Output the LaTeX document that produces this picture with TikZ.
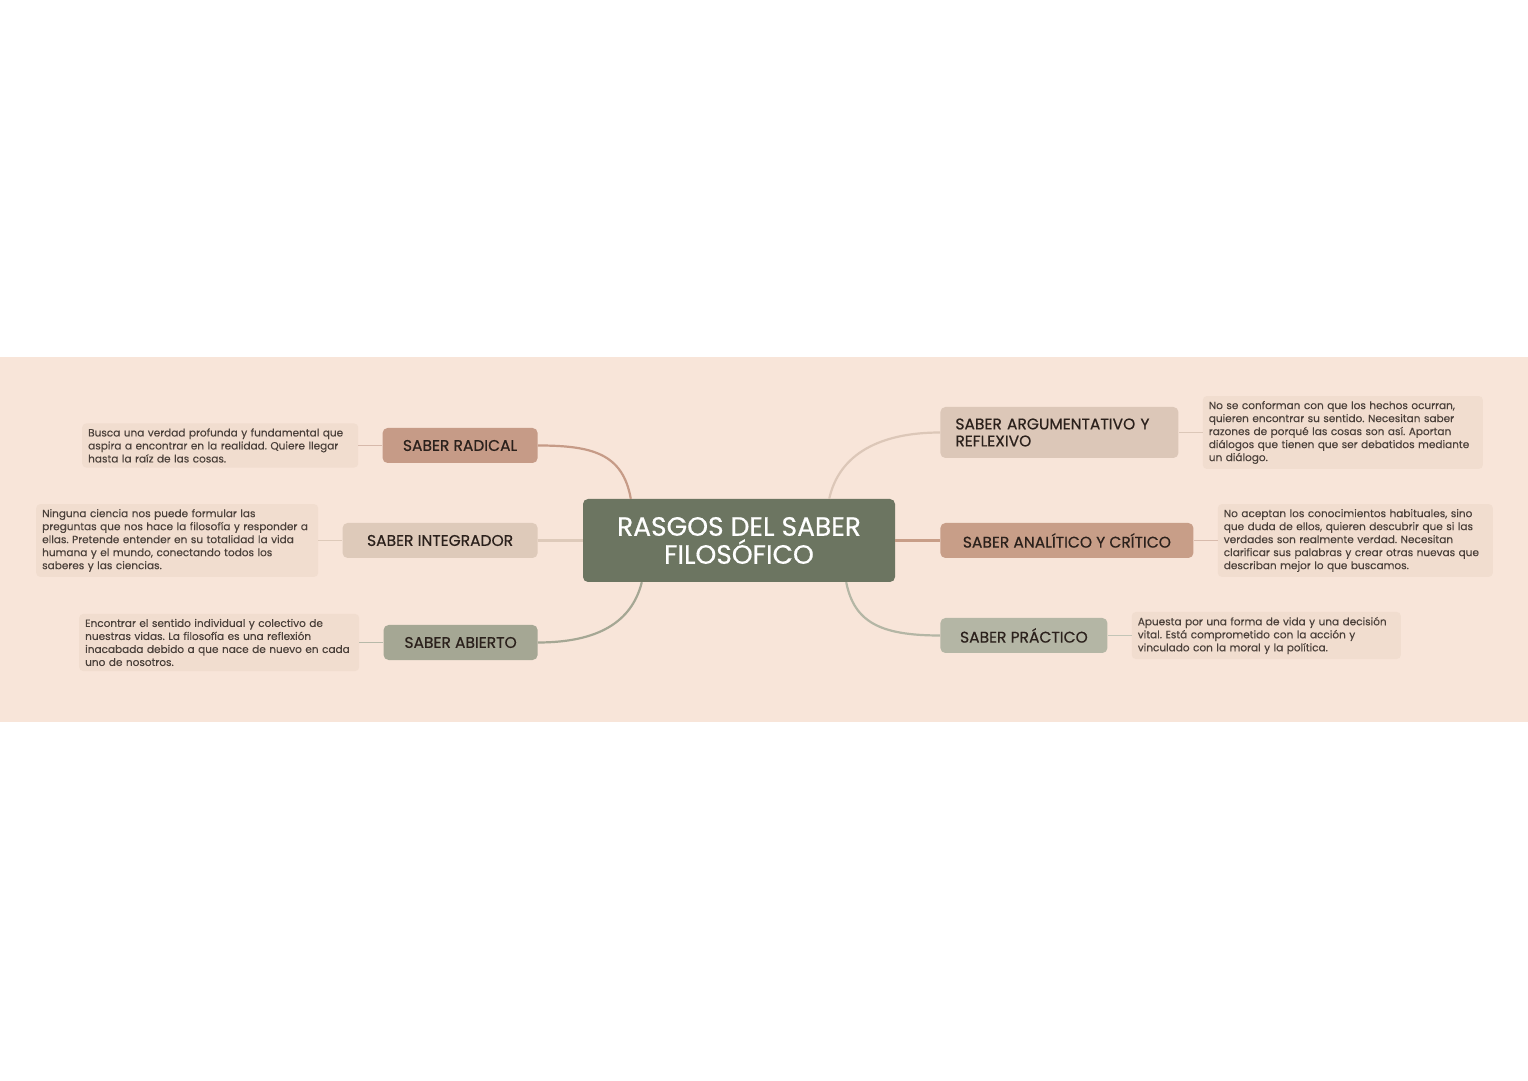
\documentclass[tikz,border=0pt]{standalone}
\usepackage{fontspec}
\setmainfont{Poppins}
\newfontfamily\rasgofont{Poppins}[FakeBold=0.5]
\newfontfamily\notafont{Poppins}[FakeBold=0.25]
\usetikzlibrary{positioning}

\definecolor{bandbg}{HTML}{F8E5D9}
\definecolor{notabg}{HTML}{F1DDCF}
\definecolor{notatext}{HTML}{4A403A}
\definecolor{rasgotext}{HTML}{2B211C}
\definecolor{centro}{HTML}{6C7561}
\definecolor{cradical}{HTML}{C69B87}
\definecolor{cintegrador}{HTML}{DECABA}
\definecolor{cabierto}{HTML}{A5A794}
\definecolor{cargumento}{HTML}{DCC7B8}
\definecolor{canalitico}{HTML}{C89E88}
\definecolor{cpractico}{HTML}{B4B6A5}

\tikzstyle{central} = [
    rectangle,
    rounded corners=5pt,
    minimum width=312pt,
    minimum height=83pt,
    text centered,
    align=center,
    fill=centro,
    text=white,
    font=\rasgofont\fontsize{26.5}{28}\selectfont,
]
\tikzstyle{rasgo} = [
    rectangle,
    rounded corners=5pt,
    minimum height=35pt,
    inner xsep=15pt,
    text=rasgotext,
    font=\rasgofont\fontsize{15.5}{17}\selectfont,
]
\tikzstyle{nota} = [
    rectangle,
    rounded corners=4pt,
    align=left,
    inner xsep=6pt,
    inner ysep=5pt,
    fill=notabg,
    text=notatext,
    font=\notafont\fontsize{10.5}{13}\selectfont,
]
\tikzstyle{rama} = [
    line width=2.2pt,
]
\tikzstyle{enlace} = [
    line width=1.2pt,
]

\begin{document}
\frenchspacing
\begin{tikzpicture}[x=1pt, y=1pt, node distance=24pt]
        \useasboundingbox (0,0) rectangle (1528,1080);
        \fill[white] (0,0) rectangle (1528,1080);
        \fill[bandbg] (0,358) rectangle (1528,723);
        %% centro
        \node (centro) [central] at (739,539.5) {RASGOS DEL SABER\\FILOS\'OFICO};
        %% rasgos de la izquierda
        \node (radical) [rasgo, fill=cradical, minimum width=155pt, left=45pt of centro, yshift=95pt] {SABER RADICAL};
        \node (integrador) [rasgo, fill=cintegrador, minimum width=195pt, left=45pt of centro] {SABER INTEGRADOR};
        \node (abierto) [rasgo, fill=cabierto, minimum width=154pt, left=45pt of centro, yshift=-102pt] {SABER ABIERTO};
        %% rasgos de la derecha
        \node (argumento) [rasgo, fill=cargumento, text width=208pt, align=left, minimum height=51pt, right=45pt of centro, yshift=108pt] {SABER ARGUMENTATIVO Y\\REFLEXIVO};
        \node (analitico) [rasgo, fill=canalitico, minimum width=253pt, right=45pt of centro] {SABER ANAL\'ITICO Y CR\'ITICO};
        \node (practico) [rasgo, fill=cpractico, minimum width=167pt, right=45pt of centro, yshift=-95pt] {SABER PR\'ACTICO};
        %% notas
        \node (nradical) [nota, text width=264pt, left=of radical] {Busca una verdad profunda y fundamental que\\aspira a encontrar en la realidad. Quiere llegar\\hasta la ra\'iz de las cosas.};
        \node (nintegrador) [nota, text width=270pt, left=of integrador] {Ninguna ciencia nos puede formular las\\preguntas que nos hace la filosof\'ia y responder a\\ellas. Pretende entender en su totalidad la vida\\humana y el mundo, conectando todos los\\saberes y las ciencias.};
        \node (nabierto) [nota, text width=268pt, left=of abierto] {Encontrar el sentido individual y colectivo de\\nuestras vidas. La filosof\'ia es una reflexi\'on\\inacabada debido a que nace de nuevo en cada\\uno de nosotros.};
        \node (nargumento) [nota, text width=268pt, right=of argumento] {No se conforman con que los hechos ocurran,\\quieren encontrar su sentido. Necesitan saber\\razones de porqu\'e las cosas son as\'i. Aportan\\di\'alogos que tienen que ser debatidos mediante\\un di\'alogo.};
        \node (nanalitico) [nota, text width=263pt, right=of analitico] {No aceptan los conocimientos habituales, sino\\que duda de ellos, quieren descubrir que si las\\verdades son realmente verdad. Necesitan\\clarificar sus palabras y crear otras nuevas que\\describan mejor lo que buscamos.};
        \node (npractico) [nota, text width=257pt, right=of practico] {Apuesta por una forma de vida y una decisi\'on\\vital. Est\'a comprometido con la acci\'on y\\vinculado con la moral y la pol\'itica.};
        %% ramas
        \draw [rama, cradical] (radical.east) .. controls +(55,0) and +(-8,45) .. ([xshift=48pt]centro.north west);
        \draw [rama, cintegrador] (integrador) -- (centro);
        \draw [rama, cabierto] (abierto.east) .. controls +(60,0) and +(-10,-40) .. ([xshift=59pt]centro.south west);
        \draw [rama, cargumento] (argumento.west) .. controls +(-60,0) and +(10,45) .. ([xshift=-66pt]centro.north east);
        \draw [rama, canalitico] (analitico) -- (centro);
        \draw [rama, cpractico] (practico.west) .. controls +(-60,0) and +(8,-40) .. ([xshift=-49pt]centro.south east);
        \draw [enlace, cradical!70] (nradical) -- (radical);
        \draw [enlace, cintegrador] (nintegrador) -- (integrador);
        \draw [enlace, cabierto!80] (nabierto) -- (abierto);
        \draw [enlace, cargumento] (nargumento) -- (argumento);
        \draw [enlace, canalitico!70] (nanalitico) -- (analitico);
        \draw [enlace, cpractico!80] (npractico) -- (practico);
\end{tikzpicture}
\end{document}
